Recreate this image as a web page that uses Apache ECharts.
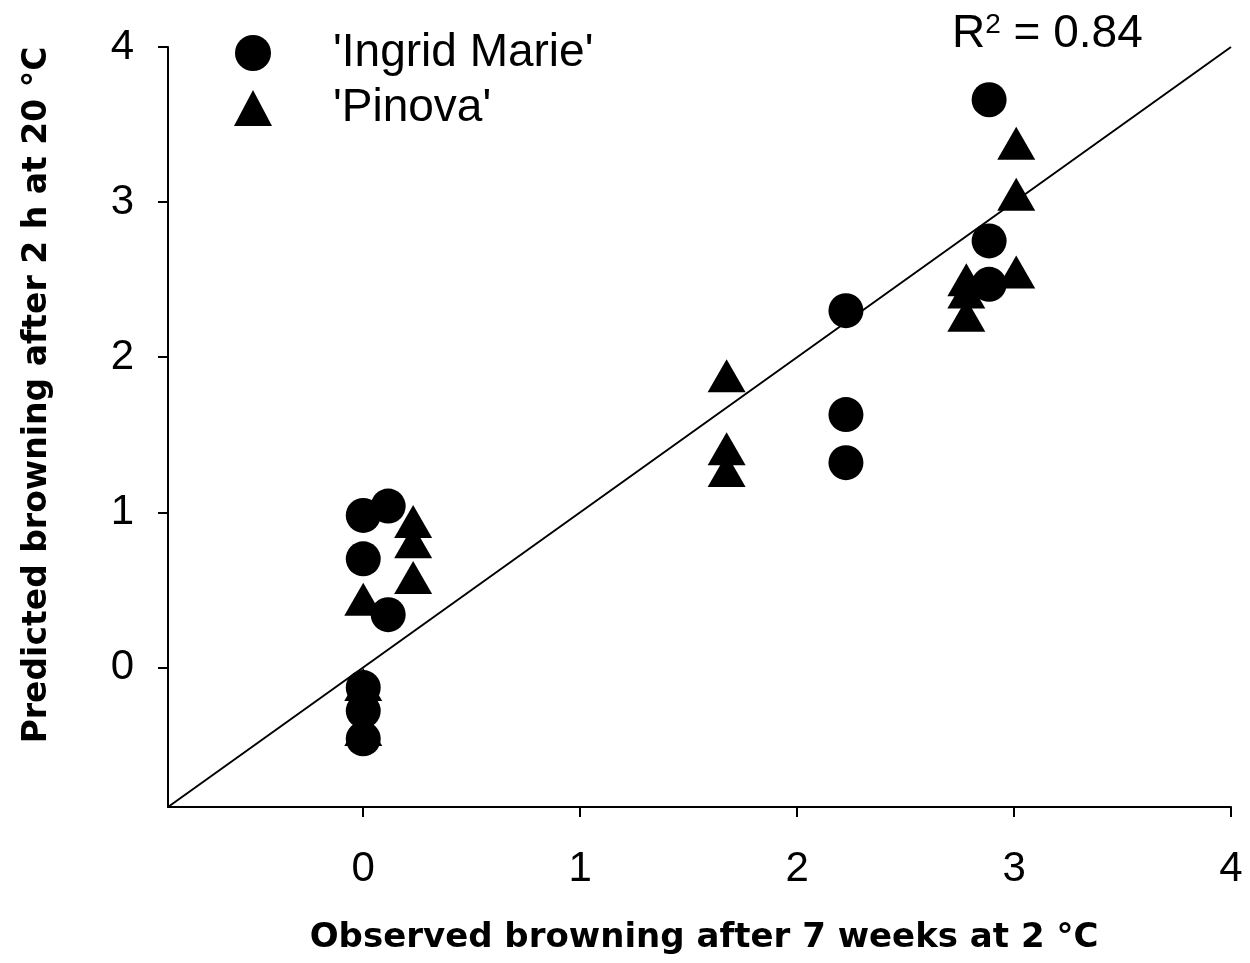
<!DOCTYPE html>
<html>
<head>
<meta charset="utf-8">
<script src="https://cdn.jsdelivr.net/npm/echarts@6/dist/echarts.min.js"></script>
<style>html,body{margin:0;padding:0;background:#fff;}#c{width:1250px;height:963px;}</style>
</head>
<body>
<div id="c"></div>
<script>
var ingridMarie = [
  [0, 0.98], [0.115, 1.04], [0, 0.70], [0.115, 0.34],
  [0, -0.13], [0, -0.28], [0, -0.46],
  [2.225, 2.30], [2.225, 1.63], [2.225, 1.32],
  [2.885, 3.66], [2.885, 2.75], [2.885, 2.47]
];
var pinova = [
  [0.23, 0.94], [0.23, 0.81], [0.23, 0.58], [0, 0.44],
  [0, -0.11], [0, -0.40],
  [1.675, 1.88], [1.675, 1.41], [1.675, 1.27],
  [3.01, 3.38], [3.01, 3.05], [3.01, 2.55],
  [2.78, 2.50], [2.78, 2.42], [2.78, 2.27]
];
var oneToOneLine = [[-0.9, -0.9], [4, 4]];
var axisTicks = [0, 1, 2, 3, 4];
var xTitle = 'Observed browning after 7 weeks at 2 °C';
var yTitle = 'Predicted browning after 2 h at 20 °C';
var legendNames = ["'Ingrid Marie'", "'Pinova'"];
var r2Text = 'R{sup|2} = 0.84';

var chart = echarts.init(document.getElementById('c'), null, {renderer: 'canvas'});
var labelFont = {fontFamily: 'Liberation Sans, Arial, sans-serif', fontSize: 42, color: '#000'};
chart.setOption({
  animation: false,
  backgroundColor: '#fff',
  grid: {left: 168, top: 47, right: 19, bottom: 156},
  xAxis: {
    type: 'value', min: -0.9, max: 4,
    axisLine: {show: true, onZero: false, lineStyle: {color: '#000', width: 2}},
    axisTick: {show: true, inside: false, length: 10, lineStyle: {color: '#000', width: 2},
      customValues: axisTicks},
    axisLabel: Object.assign({margin: 41, customValues: axisTicks}, labelFont),
    splitLine: {show: false}
  },
  yAxis: {
    type: 'value', min: -0.9, max: 4,
    axisLine: {show: true, onZero: false, lineStyle: {color: '#000', width: 2}},
    axisTick: {show: true, inside: false, length: 10, lineStyle: {color: '#000', width: 2},
      customValues: axisTicks},
    axisLabel: Object.assign({margin: 34, customValues: axisTicks, padding: [8, 0, 0, 0]}, labelFont),
    splitLine: {show: false}
  },
  legend: {
    show: true, orient: 'vertical', left: 234, top: 30, padding: 0,
    itemWidth: 38, itemHeight: 36, itemGap: 9,
    textStyle: {fontFamily: 'Liberation Sans, Arial, sans-serif', fontSize: 46, color: '#000',
      padding: [0, 0, 0, 56]},
    data: [
      {name: legendNames[0], icon: 'circle'},
      {name: legendNames[1], icon: 'triangle'}
    ]
  },
  graphic: [
    {type: 'text', x: 704, y: 938,
      style: {text: xTitle, font: 'bold 34px "DejaVu Sans", sans-serif', fill: '#000', textAlign: 'center', textVerticalAlign: 'middle'}},
    {type: 'text', x: 37, y: 395, rotation: Math.PI / 2,
      style: {text: yTitle, font: 'bold 33px "DejaVu Sans", sans-serif', fill: '#000', textAlign: 'center', textVerticalAlign: 'middle'}},
    {type: 'text', left: 952, top: 11,
      style: {text: r2Text, font: '46px "Liberation Sans", Arial, sans-serif', fill: '#000',
        rich: {sup: {fontSize: 28, verticalAlign: 'top', fontFamily: 'Liberation Sans, Arial', padding: [0, 0, 18, 0]}}}}
  ],
  series: [
    {
      type: 'line', data: oneToOneLine, symbol: 'none', silent: true,
      lineStyle: {color: '#000', width: 2}, z: 1
    },
    {
      name: legendNames[1], type: 'scatter', data: pinova, symbol: 'triangle',
      symbolSize: [38, 33], itemStyle: {color: '#000', opacity: 1}, z: 2
    },
    {
      name: legendNames[0], type: 'scatter', data: ingridMarie, symbol: 'circle',
      symbolSize: 35, itemStyle: {color: '#000', opacity: 1}, z: 3
    }
  ]
});
</script>
</body>
</html>
